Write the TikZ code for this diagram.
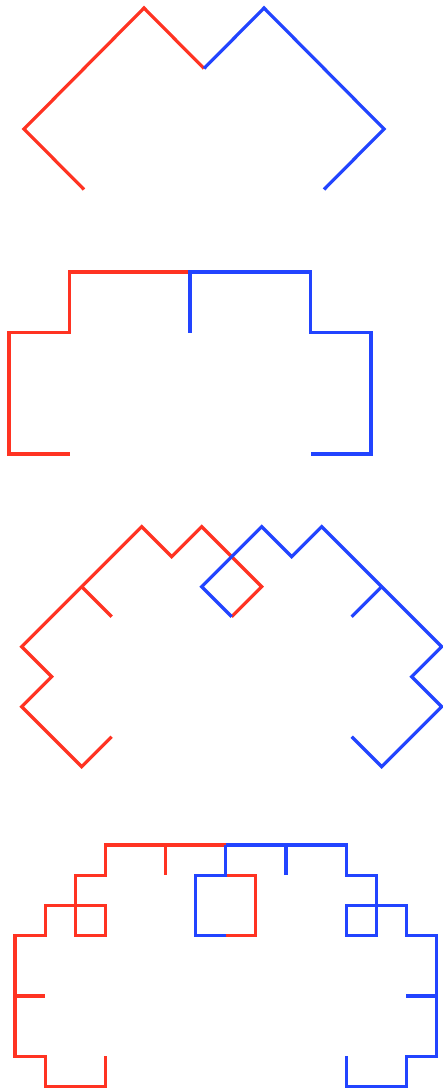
\documentclass[tikz,border=0pt]{standalone}
\definecolor{dred}{RGB}{255,51,34}
\definecolor{dblue}{RGB}{34,68,255}
\begin{document}
\begin{tikzpicture}[x=1pt,y=-1pt,
  redc/.style={draw=dred,line width=3.2pt,line join=miter},
  bluec/.style={draw=dblue,line width=3.2pt,line join=miter}]
\useasboundingbox (0,0) rectangle (443,1089);
% panel 1
\draw[redc] (84,189.5)--(24,129)--(144,8)--(204,68.5);
\draw[bluec] (324,189.5)--(384,129)--(264,8)--(204,68.5);
% panel 2
\draw[redc] (190,272)--(69.5,272)--(69.5,332.7)--(9,332.7)--(9,454)--(69.5,454);
\draw[bluec] (190,332.7)--(190,272)--(310.5,272)--(310.5,332.7)--(371,332.7)--(371,454)--(310.5,454);
% panel 3
\begin{scope}[shift={(21.7pt,-526.7pt)},x=30pt,y=-30pt]
\draw[redc] (7,3)--(8,2)--(6,0)--(5,1)--(4,0)--(2,2)--(0,4)--(1,5)--(0,6)--(2,8)--(3,7);
\draw[redc] (2,2)--(3,3);
\draw[bluec] (7,3)--(6,2)--(8,0)--(9,1)--(10,0)--(12,2)--(14,4)--(13,5)--(14,6)--(12,8)--(11,7);
\draw[bluec] (12,2)--(11,3);
\end{scope}
% panel 4
\begin{scope}[shift={(15pt,-845pt)},x=30.1pt,y=-30.2pt]
\draw[redc] (7,0)--(3,0)--(3,1)--(2,1)--(2,2)--(1,2)--(1,3)--(0,3)--(0,7)--(1,7)--(1,8)--(3,8)--(3,7);
\draw[redc] (5,0)--(5,1);
\draw[redc] (0,5)--(1,5);
\draw[redc] (2,1)--(2,3)--(3,3)--(3,2)--(2,2);
\draw[redc] (7,1)--(8,1)--(8,3)--(7,3);
\draw[bluec] (7,0)--(11,0)--(11,1)--(12,1)--(12,2)--(13,2)--(13,3)--(14,3)--(14,7)--(13,7)--(13,8)--(11,8)--(11,7);
\draw[bluec] (9,0)--(9,1);
\draw[bluec] (14,5)--(13,5);
\draw[bluec] (12,1)--(12,3)--(11,3)--(11,2)--(12,2);
\draw[bluec] (7,0)--(7,1)--(6,1)--(6,3)--(7,3);
\end{scope}
\end{tikzpicture}
\end{document}
